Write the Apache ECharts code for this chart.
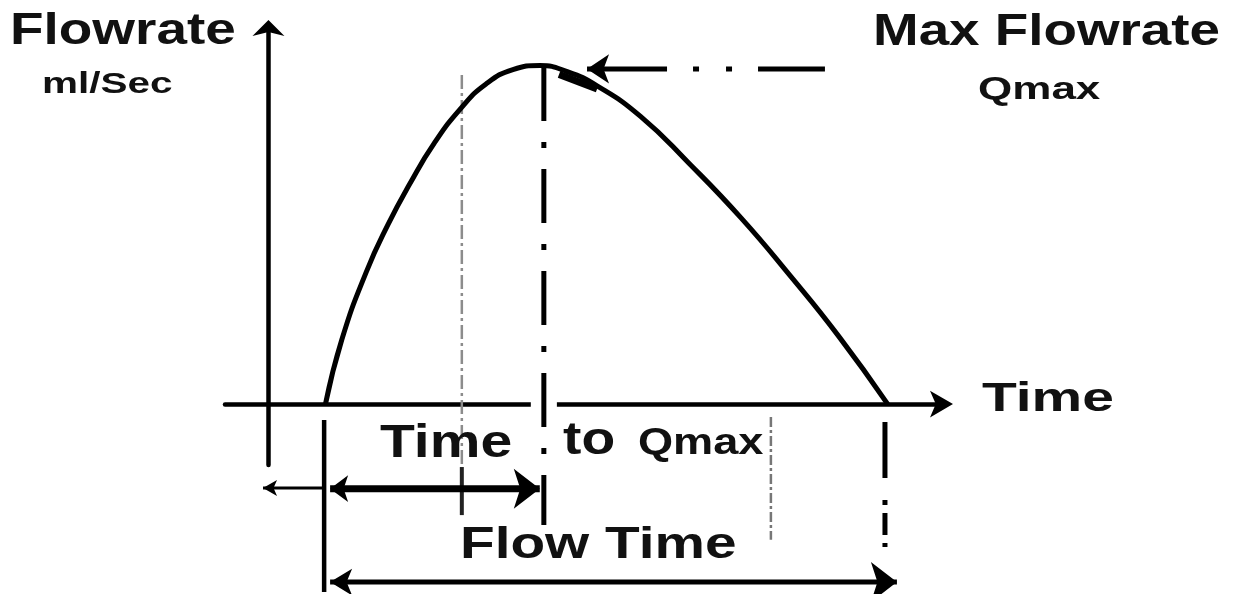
<!DOCTYPE html>
<html>
<head>
<meta charset="utf-8">
<script src="https://cdn.jsdelivr.net/npm/echarts@6/dist/echarts.min.js"></script>
<style>
    html, body { margin: 0; padding: 0; background: #fff; }
    #chart_main { width: 1239px; height: 594px; }
</style>
</head>
<body>
<div id="chart_main"></div>
<script>
// flow curve (time units, flowrate units)
var curveTime = [2.1, 2.7, 3.6, 4.4, 5.2, 6.1, 7.1, 8.0, 9.0, 10.0, 11.0, 12.1, 13.7, 15.5, 17.4, 19.2, 21.0, 22.8];
var curveFlow = [0, 1.9, 3.9, 5.3, 6.5, 7.7, 8.75, 9.45, 9.88, 10.0, 9.82, 9.4, 8.5, 7.1, 5.5, 3.8, 2.0, 0];

// guide lines: [time, time], [flow from, flow to]
var qmaxGuideTime = [10.14, 10.14], qmaxGuideFlow = [9.96, -3.57];
var midGuideTime = [7.12, 7.12], midGuideFlow = [9.72, -1.86];
var midTickTime = [7.12, 7.12], midTickFlow = [-1.86, -3.28];
var lateGuideTime = [18.5, 18.5], lateGuideFlow = [-0.38, -4.01];
var endGuideTime = [22.7, 22.7], endGuideFlow = [-0.53, -4.25];
var startGuideTime = [2.05, 2.05], startGuideFlow = [-0.47, -5.55];

// arrows (first / last point = arrow tip)
var delayArrowTime = [-0.2, 2.05], delayArrowFlow = [-2.48, -2.48];
var toQmaxArrowTime = [2.27, 9.99], toQmaxArrowFlow = [-2.5, -2.5];
var flowTimeArrowTime = [2.27, 23.14], flowTimeArrowFlow = [-5.26, -5.26];
var qmaxPointerTime = [11.73, 20.49], qmaxPointerFlow = [9.9, 9.9];
var axisGapTime = [9.66, 10.62], axisGapFlow = [0, 0];
var peakWedgeTime = [10.7, 12.1], peakWedgeFlow = [9.74, 9.31];

function pts(ts, fs) {
    return ts.map(function (t, i) { return [t, fs[i]]; });
}
function arrowAt(p, size, rot) {
    return { value: p, symbol: 'arrow', symbolSize: size, symbolRotate: rot };
}
function line(data, width, color, type, extra) {
    var s = {
        type: 'line',
        data: data,
        symbol: 'none',
        showSymbol: true,
        clip: false,
        silent: true,
        itemStyle: { color: color },
        lineStyle: { color: color, width: width, type: type || 'solid', cap: 'butt' }
    };
    for (var k in extra) s[k] = extra[k];
    return s;
}

var black = '#000';
var grey = '#8c8c8c';

var delay = pts(delayArrowTime, delayArrowFlow);
delay[0] = arrowAt(delay[0], [12, 14], 90);
var toQ = pts(toQmaxArrowTime, toQmaxArrowFlow);
toQ[0] = arrowAt(toQ[0], [20, 18], 90);
toQ[1] = arrowAt(toQ[1], [30, 26], -90);
var flowT = pts(flowTimeArrowTime, flowTimeArrowFlow);
flowT[0] = arrowAt(flowT[0], [20, 22], 90);
flowT[1] = arrowAt(flowT[1], [30, 26], -90);
var pointer = pts(qmaxPointerTime, qmaxPointerFlow);
pointer[0] = arrowAt(pointer[0], [22, 22], 90);

var series = [
    line(pts(midGuideTime, midGuideFlow), 2.5, grey, [14, 4, 3, 4]),
    line(pts(lateGuideTime, lateGuideFlow), 2.5, '#777', [10, 3, 3, 3]),
    line(pts(axisGapTime, axisGapFlow), 7, '#fff'),
    line(pts(curveTime, curveFlow), 5, black, 'solid', { smooth: 0.5 }),
    line(pts(peakWedgeTime, peakWedgeFlow), 7, black),
    line(pts(qmaxGuideTime, qmaxGuideFlow), 5, black, [54, 21, 6, 21]),
    line(pts(midTickTime, midTickFlow), 4, '#222'),
    line(pts(endGuideTime, endGuideFlow), 5, black, [56, 22, 5, 8, 22, 8, 4, 100]),
    line(pts(startGuideTime, startGuideFlow), 4.5, black),
    line(delay, 3, black),
    line(toQ, 7, black),
    line(flowT, 5, black),
    line(pointer, 5, black, [80, 26, 6, 27, 6, 26])
];

// labels: text, x, y (middle), font size, horizontal stretch
var labels = [
    ['Flowrate', 10, 32, 45, 1.22],
    ['ml/Sec', 42, 85, 30, 1.35],
    ['Max Flowrate', 873, 32.5, 44, 1.245],
    ['Qmax', 978, 90, 31, 1.42],
    ['Time', 982, 400, 41, 1.39],
    ['Time', 380, 444, 46, 1.24],
    ['to', 563, 441, 46, 1.2],
    ['Qmax', 638, 444, 37, 1.22],
    ['Flow Time', 460, 546, 44, 1.29]
];

var graphic = labels.map(function (l) {
    return {
        type: 'text',
        x: l[1],
        y: l[2],
        scaleX: l[4],
        z: 100,
        style: {
            text: l[0],
            font: 'bold ' + l[3] + 'px "Liberation Sans", Arial, sans-serif',
            fill: '#111',
            align: 'left',
            verticalAlign: 'middle'
        }
    };
});

var axisCommon = {
    axisTick: { show: false },
    axisLabel: { show: false },
    splitLine: { show: false }
};

var myChart = echarts.init(document.getElementById('chart_main'));
var option = {
    animation: false,
    backgroundColor: '#fff',
    grid: { left: 225, right: 297, top: 28, bottom: 129, outerBoundsMode: 'none' },
    xAxis: Object.assign({
        type: 'value',
        min: -1.6,
        max: 24.8,
        axisLine: {
            show: true, onZero: true,
            symbol: ['none', 'arrow'], symbolSize: [20, 23], symbolOffset: [0, 11],
            lineStyle: { color: black, width: 4.5 }
        }
    }, axisCommon),
    yAxis: Object.assign({
        type: 'value',
        min: -1.8,
        max: 11.11,
        axisLine: {
            show: true, onZero: true,
            symbol: ['none', 'arrow'], symbolSize: [24, 16], symbolOffset: [0, 8],
            lineStyle: { color: black, width: 4.5 }
        }
    }, axisCommon),
    series: series,
    graphic: graphic
};
myChart.setOption(option);
</script>
</body>
</html>
